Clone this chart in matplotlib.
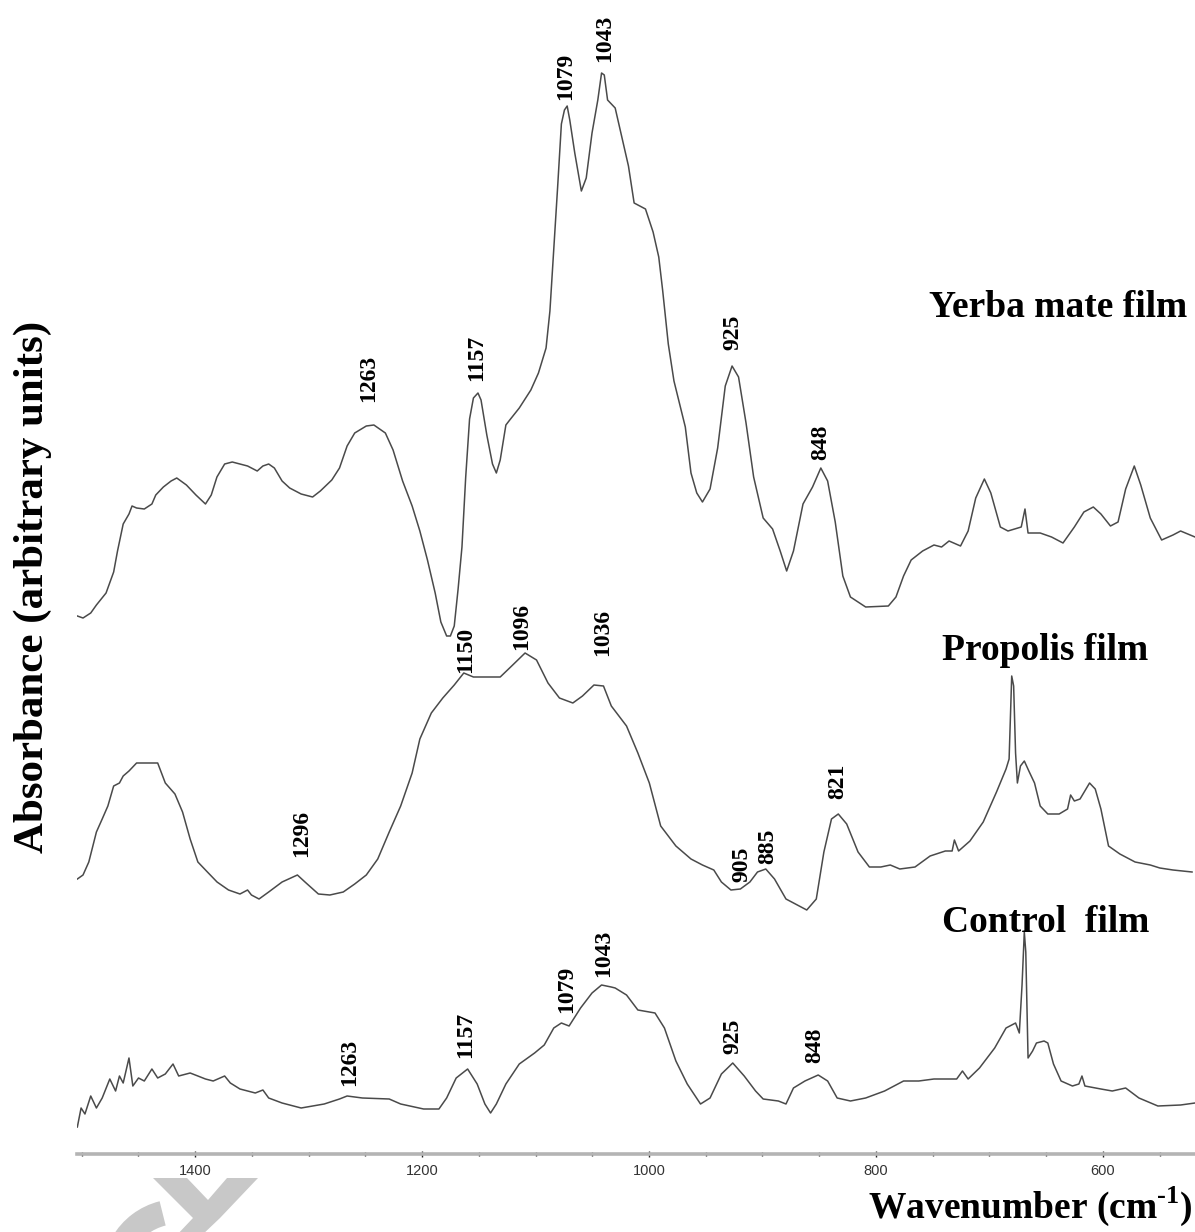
import matplotlib
matplotlib.use('Agg')
import matplotlib.pyplot as plt
from matplotlib.ticker import MultipleLocator
from matplotlib.patches import Polygon, Wedge

plt.rcParams['font.family'] = ['Liberation Serif', 'DejaVu Serif']
plt.rcParams['mathtext.fontset'] = 'custom'
plt.rcParams['mathtext.rm'] = 'Liberation Serif:bold'
plt.rcParams['mathtext.bf'] = 'Liberation Serif:bold'

# Yerba mate film spectrum (wavenumber, absorbance in arbitrary units)
wn_yerba = [1503.7, 1498.7, 1491.9, 1486.9, 1478.4, 1471.7, 1468.3, 1463.3, 1458.2, 1455.5,
            1451.5, 1444.7, 1438.0, 1434.6, 1427.9, 1421.1, 1416.1, 1407.6, 1399.2, 1390.8,
            1385.7, 1380.7, 1373.9, 1367.2, 1353.7, 1345.2, 1340.2, 1335.1, 1330.1, 1323.3,
            1316.6, 1306.5, 1296.4, 1289.6, 1279.5, 1272.7, 1266.0, 1259.3, 1249.1, 1242.4,
            1232.3, 1225.5, 1217.1, 1208.7, 1201.9, 1195.2, 1188.4, 1183.4, 1178.3, 1175.0,
            1171.6, 1168.2, 1164.8, 1161.5, 1158.1, 1154.7, 1150.7, 1148.0, 1142.9, 1137.9,
            1134.5, 1131.1, 1126.1, 1122.7, 1114.3, 1104.1, 1097.4, 1090.7, 1087.3, 1083.9,
            1080.5, 1077.2, 1074.5, 1072.1, 1069.8, 1065.4, 1059.6, 1055.3, 1050.2, 1045.1,
            1041.8, 1039.4, 1036.5, 1029.8, 1023.1, 1018.1, 1013.1, 1003.1, 996.4, 991.4,
            988.0, 983.0, 978.0, 973.0, 968.0, 963.0, 957.9, 952.9, 946.2, 939.5,
            932.8, 926.8, 921.1, 914.5, 907.8, 899.4, 891.1, 884.4, 878.7, 872.7,
            864.3, 855.9, 848.6, 842.6, 835.9, 829.2, 822.5, 809.1, 789.1, 782.4,
            775.7, 769.0, 758.9, 748.9, 742.2, 735.6, 725.5, 718.8, 712.1, 704.5,
            698.8, 690.4, 683.7, 672.0, 668.7, 666.0, 655.3, 645.3, 635.2, 625.2,
            616.8, 608.5, 601.8, 593.4, 586.7, 580.0, 572.4, 566.7, 558.3, 548.3,
            538.3, 531.6, 518.9]
ab_yerba = [0.538, 0.536, 0.541, 0.549, 0.561, 0.582, 0.603, 0.630, 0.640, 0.648,
            0.646, 0.645, 0.650, 0.659, 0.667, 0.673, 0.676, 0.669, 0.659, 0.650,
            0.659, 0.677, 0.690, 0.692, 0.688, 0.683, 0.688, 0.690, 0.686, 0.673,
            0.666, 0.660, 0.657, 0.663, 0.674, 0.686, 0.708, 0.721, 0.728, 0.729,
            0.721, 0.704, 0.673, 0.648, 0.623, 0.594, 0.561, 0.532, 0.518, 0.518,
            0.528, 0.565, 0.607, 0.677, 0.735, 0.756, 0.761, 0.754, 0.719, 0.690,
            0.681, 0.694, 0.729, 0.734, 0.746, 0.764, 0.781, 0.806, 0.843, 0.905,
            0.967, 1.030, 1.044, 1.048, 1.034, 1.001, 0.963, 0.976, 1.021, 1.054,
            1.081, 1.079, 1.054, 1.046, 1.013, 0.988, 0.951, 0.945, 0.922, 0.897,
            0.864, 0.810, 0.773, 0.750, 0.727, 0.681, 0.661, 0.652, 0.665, 0.706,
            0.768, 0.788, 0.777, 0.731, 0.677, 0.636, 0.625, 0.603, 0.583, 0.603,
            0.650, 0.667, 0.686, 0.673, 0.632, 0.578, 0.557, 0.547, 0.548, 0.557,
            0.578, 0.594, 0.603, 0.609, 0.607, 0.613, 0.608, 0.623, 0.656, 0.675,
            0.661, 0.627, 0.623, 0.627, 0.645, 0.621, 0.621, 0.617, 0.611, 0.627,
            0.642, 0.647, 0.640, 0.628, 0.632, 0.665, 0.688, 0.669, 0.636, 0.614,
            0.619, 0.623, 0.617]

# Propolis film spectrum
wn_propolis = [1503.7, 1498.7, 1493.6, 1486.9, 1481.8, 1476.8, 1471.7, 1466.6, 1463.3, 1458.2,
               1451.5, 1443.0, 1432.9, 1426.2, 1417.7, 1411.0, 1404.3, 1397.5, 1389.1, 1380.6,
               1370.5, 1360.4, 1353.7, 1350.3, 1343.6, 1335.1, 1323.3, 1309.8, 1303.1, 1291.3,
               1281.2, 1269.4, 1259.3, 1249.1, 1239.0, 1228.9, 1218.8, 1208.7, 1201.9, 1191.8,
               1181.7, 1171.6, 1163.2, 1154.7, 1131.1, 1121.0, 1109.2, 1099.1, 1089.0, 1078.9,
               1067.1, 1058.6, 1048.5, 1040.1, 1033.2, 1019.8, 1009.8, 999.7, 989.7, 976.3,
               963.0, 952.9, 942.9, 936.2, 927.8, 919.5, 911.1, 904.4, 897.1, 889.4,
               879.3, 869.3, 861.0, 852.6, 845.9, 839.2, 833.2, 825.8, 815.8, 805.8,
               795.7, 787.4, 779.0, 765.6, 752.3, 738.9, 732.9, 730.9, 727.2, 717.2,
               705.5, 693.8, 685.4, 682.7, 680.4, 678.7, 677.0, 675.4, 672.7, 669.3,
               665.3, 660.3, 655.3, 648.6, 638.6, 631.2, 628.5, 625.2, 620.2, 611.8,
               606.8, 601.8, 595.1, 585.1, 571.7, 558.3, 549.9, 538.3, 521.5]
ab_propolis = [0.275, 0.279, 0.292, 0.322, 0.335, 0.348, 0.368, 0.371, 0.378, 0.383,
               0.391, 0.391, 0.391, 0.371, 0.360, 0.342, 0.315, 0.292, 0.282, 0.272,
               0.264, 0.260, 0.264, 0.259, 0.255, 0.262, 0.272, 0.279, 0.272, 0.260,
               0.259, 0.262, 0.270, 0.279, 0.295, 0.322, 0.348, 0.381, 0.415, 0.441,
               0.456, 0.469, 0.481, 0.477, 0.477, 0.488, 0.501, 0.494, 0.471, 0.456,
               0.451, 0.458, 0.469, 0.468, 0.448, 0.428, 0.401, 0.371, 0.328, 0.308,
               0.295, 0.289, 0.284, 0.272, 0.264, 0.265, 0.272, 0.282, 0.285, 0.275,
               0.255, 0.249, 0.244, 0.255, 0.302, 0.335, 0.340, 0.330, 0.302, 0.287,
               0.287, 0.289, 0.285, 0.287, 0.298, 0.303, 0.303, 0.314, 0.303, 0.313,
               0.332, 0.362, 0.385, 0.395, 0.478, 0.468, 0.401, 0.371, 0.388, 0.393,
               0.383, 0.371, 0.348, 0.340, 0.340, 0.345, 0.359, 0.353, 0.355, 0.371,
               0.365, 0.345, 0.308, 0.300, 0.292, 0.289, 0.286, 0.284, 0.282]

# Control film spectrum
wn_control = [1503.7, 1500.4, 1497.0, 1491.9, 1486.9, 1481.8, 1475.1, 1470.0, 1466.6, 1463.3,
              1458.2, 1454.8, 1449.8, 1444.7, 1438.0, 1432.9, 1426.2, 1419.4, 1414.4, 1404.3,
              1397.5, 1390.8, 1384.0, 1373.9, 1368.9, 1360.4, 1346.9, 1340.2, 1335.1, 1323.3,
              1306.5, 1286.2, 1272.7, 1266.0, 1252.5, 1228.9, 1218.8, 1198.6, 1185.1, 1178.3,
              1169.9, 1159.8, 1151.4, 1144.6, 1139.6, 1134.5, 1126.1, 1114.3, 1100.8, 1092.3,
              1083.9, 1077.2, 1070.4, 1060.3, 1050.2, 1041.8, 1033.3, 1029.8, 1019.8, 1009.8,
              994.7, 986.4, 976.3, 966.3, 954.6, 946.2, 936.2, 926.2, 916.1, 906.1,
              899.4, 886.0, 879.3, 872.7, 862.6, 850.9, 842.6, 834.2, 822.5, 809.1,
              792.4, 775.7, 762.3, 748.9, 728.9, 723.8, 718.8, 708.8, 695.4, 685.4,
              677.0, 673.7, 671.3, 669.3, 668.0, 666.0, 662.0, 658.6, 651.9, 648.6,
              643.6, 636.9, 626.9, 621.2, 618.5, 615.9, 601.8, 591.8, 580.0, 568.3,
              551.6, 531.6, 518.9]
ab_control = [0.027, 0.046, 0.040, 0.058, 0.046, 0.056, 0.075, 0.063, 0.078, 0.071,
              0.096, 0.068, 0.076, 0.073, 0.085, 0.076, 0.080, 0.090, 0.078, 0.081,
              0.078, 0.075, 0.073, 0.078, 0.071, 0.065, 0.061, 0.064, 0.056, 0.051,
              0.046, 0.050, 0.055, 0.058, 0.056, 0.055, 0.050, 0.045, 0.045, 0.056,
              0.076, 0.085, 0.070, 0.050, 0.041, 0.050, 0.070, 0.090, 0.101, 0.109,
              0.126, 0.131, 0.128, 0.146, 0.161, 0.169, 0.167, 0.166, 0.159, 0.144,
              0.141, 0.126, 0.093, 0.070, 0.050, 0.056, 0.080, 0.091, 0.078, 0.063,
              0.055, 0.053, 0.050, 0.066, 0.073, 0.079, 0.073, 0.056, 0.053, 0.056,
              0.063, 0.073, 0.073, 0.075, 0.075, 0.083, 0.075, 0.086, 0.106, 0.126,
              0.131, 0.121, 0.169, 0.222, 0.202, 0.096, 0.103, 0.111, 0.113, 0.111,
              0.090, 0.073, 0.068, 0.070, 0.078, 0.068, 0.065, 0.063, 0.066, 0.056,
              0.048, 0.049, 0.051]

# peak labels: (text, x position, y position of the text bottom)
peaks_yerba = [('1263', 1246.7, 0.752), ('1157', 1151.5, 0.773), ('1079', 1073.1, 1.054),
               ('1043', 1038.8, 1.092), ('925', 926.0, 0.804), ('848', 848.5, 0.694)]
peaks_propolis = [('1296', 1305.7, 0.297), ('1150', 1161.2, 0.481), ('1096', 1111.9, 0.504),
                  ('1036', 1040.5, 0.498), ('905', 918.1, 0.272), ('885', 895.2, 0.290),
                  ('821', 833.5, 0.355)]
peaks_control = [('1263', 1263.4, 0.068), ('1157', 1161.2, 0.096), ('1079', 1072.2, 0.141),
                 ('1043', 1039.6, 0.177), ('925', 926.0, 0.100), ('848', 853.7, 0.091)]

film_names = ['Yerba mate film', 'Propolis film', 'Control  film']
film_label_x = [526, 560, 559]
film_label_y = [0.837, 0.494, 0.222]

W, H = 1195, 1232
fig = plt.figure(figsize=(W / 100, H / 100), dpi=100)
ax = fig.add_axes([77 / W, 1 - 1154 / H, (W - 77) / W, 1154 / H])

line_color = '#4a4a4a'
for wn, ab in [(wn_yerba, ab_yerba), (wn_propolis, ab_propolis), (wn_control, ab_control)]:
    ax.plot(wn, ab, color=line_color, lw=1.1)

for peaks in [peaks_yerba, peaks_propolis, peaks_control]:
    for txt, px, py in peaks:
        ax.text(px, py, txt, rotation=90, ha='center', va='bottom',
                fontsize=17, fontweight='bold')

for name, lx, ly in zip(film_names, film_label_x, film_label_y):
    ax.text(lx, ly, name, ha='right', va='baseline', fontsize=27, fontweight='bold')

ax.set_xlim(1504, 518.9)
ax.set_ylim(0, 1.154)

for s in ['top', 'left', 'right']:
    ax.spines[s].set_visible(False)
ax.spines['bottom'].set_color('#b4b4b4')
ax.spines['bottom'].set_linewidth(2.6)
ax.set_yticks([])
ax.set_xticks([1400, 1200, 1000, 800, 600])
ax.xaxis.set_minor_locator(MultipleLocator(50))
ax.tick_params(axis='x', which='major', direction='inout', length=5, width=1.0,
               color='#222222', pad=5, labelsize=10.5, labelcolor='#333333')
ax.tick_params(axis='x', which='minor', direction='inout', length=2.5, width=1.0,
               color='#222222')
for lab in ax.get_xticklabels():
    lab.set_family(['Liberation Sans Narrow', 'Liberation Sans'])

fig.text(1193 / W, 1 - 1218 / H, r'Wavenumber (cm$^{\text{-1}}$)', ha='right',
         va='baseline', fontsize=27, fontweight='bold')
fig.text(33 / W, 1 - 587 / H, 'Absorbance (arbitrary units)', rotation=90,
         ha='center', va='center', fontsize=31, fontweight='bold')

# faint watermark fragments cut by the bottom edge (decoration, in inches)
wm = '#c8c8c8'
fig.patches.append(Polygon([(1.53, 0.54), (1.87, 0.54), (2.08, 0.32), (2.27, 0.54),
                            (2.58, 0.54), (2.20, 0.14), (2.00, -0.05), (1.75, -0.05),
                            (1.93, 0.14)],
                           closed=True, facecolor=wm, edgecolor='none',
                           transform=fig.dpi_scale_trans, zorder=0))
fig.patches.append(Wedge((1.78, -0.43), 0.76, 104, 150, width=0.25, facecolor=wm,
                         edgecolor='none', transform=fig.dpi_scale_trans, zorder=0))

fig.savefig('out.png', dpi=100)
